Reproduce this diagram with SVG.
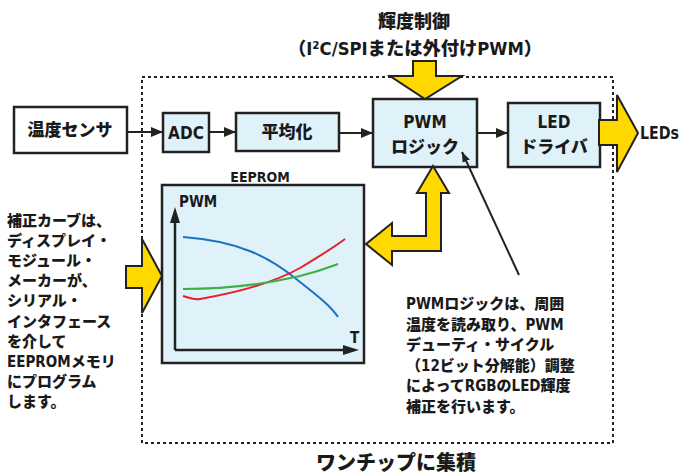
<svg xmlns="http://www.w3.org/2000/svg" width="681" height="475" viewBox="0 0 681 475">
<style>
.t{font-family:"DejaVu Sans Condensed","DejaVu Sans","Noto Sans CJK JP",sans-serif;font-stretch:condensed;font-weight:900;fill:#1a1a1a}
.box{fill:#dff1f9;stroke:#222;stroke-width:2.5}
.wbox{fill:#fff;stroke:#222;stroke-width:2.5}
.yel{fill:#ffd800;stroke:#222;stroke-width:2;stroke-linejoin:miter}
.con{stroke:#222;stroke-width:2;fill:none}
.m{text-anchor:middle}
</style>
<defs>
<marker id="ah" viewBox="0 0 12 10" refX="12" refY="5" markerWidth="12" markerHeight="10" markerUnits="userSpaceOnUse" orient="auto"><path d="M0,0 L12,5 L0,10 Z" fill="#222"/></marker>
<marker id="ah2" viewBox="0 0 10 8" refX="10" refY="4" markerWidth="10" markerHeight="8" markerUnits="userSpaceOnUse" orient="auto"><path d="M0,0 L10,4 L0,8 Z" fill="#222"/></marker>
</defs>
<rect width="681" height="475" fill="#fff"/>

<g id="title">
<text class="t m" x="414" y="28" font-size="18">輝度制御</text>
<text class="t m" x="415" y="55" font-size="18" textLength="254" lengthAdjust="spacingAndGlyphs">（I²C/SPIまたは外付けPWM）</text>
</g>

<g id="chip-boundary">
<rect x="142" y="77" width="471" height="366" fill="none" stroke="#222" stroke-width="2" stroke-dasharray="3 3"/>
</g>

<g id="temp-sensor">
<rect class="wbox" x="14" y="107" width="113" height="46"/>
<text class="t m" x="70" y="136" font-size="17">温度センサ</text>
</g>
<g id="adc">
<rect class="box" x="163" y="113" width="46" height="39"/>
<text class="t m" x="186" y="139" font-size="17">ADC</text>
</g>
<g id="average">
<rect class="box" x="236" y="113" width="103" height="38"/>
<text class="t m" x="287" y="138" font-size="17">平均化</text>
</g>
<g id="pwm-logic">
<rect class="box" x="373" y="99" width="104" height="68"/>
<text class="t m" x="425" y="128" font-size="17">PWM</text>
<text class="t m" x="425" y="153" font-size="17">ロジック</text>
</g>
<g id="led-driver">
<rect class="box" x="508" y="103" width="92" height="64"/>
<text class="t m" x="554" y="128" font-size="17">LED</text>
<text class="t m" x="554" y="153" font-size="17">ドライバ</text>
</g>
<g id="leds">
<text class="t" x="640" y="139" font-size="17" textLength="39" lengthAdjust="spacingAndGlyphs">LEDs</text>
</g>

<g id="eeprom">
<text class="t m" x="260" y="182" font-size="14">EEPROM</text>
<rect class="box" x="162" y="185" width="202" height="178"/>
<line x1="175" y1="350" x2="175" y2="220" stroke="#222" stroke-width="2.5"/>
<polygon points="175,207 170,223 180,223" fill="#222"/>
<line x1="175" y1="350" x2="345" y2="350" stroke="#222" stroke-width="2.5"/>
<polygon points="359,350 343,345 343,355" fill="#222"/>
<text class="t" x="179" y="207" font-size="15">PWM</text>
<text class="t" x="350" y="343" font-size="15">T</text>
<path d="M183,237 C240,241 270,258 295,278 C315,294 330,305 338,317" fill="none" stroke="#1a72c0" stroke-width="2"/>
<path d="M183,296 C190,298 194,300 200,299 C240,292 275,282 300,268 C320,256 333,248 345,239" fill="none" stroke="#e8202a" stroke-width="2"/>
<path d="M183,289 C230,289 270,283 300,276 C320,271 330,267 338,264" fill="none" stroke="#3cb043" stroke-width="2"/>
</g>

<g id="connectors">
<line class="con" x1="127" y1="132" x2="163" y2="132" marker-end="url(#ah)"/>
<line class="con" x1="209" y1="132" x2="236" y2="132" marker-end="url(#ah)"/>
<line class="con" x1="339" y1="133" x2="373" y2="133" marker-end="url(#ah)"/>
<line class="con" x1="477" y1="133" x2="508" y2="133" marker-end="url(#ah)"/>
<line class="con" x1="519" y1="275" x2="462" y2="152" stroke-width="1.6" marker-end="url(#ah2)"/>
<polygon class="yel" points="413,61 436,61 436,76 462,76 425,99 390,76 413,76"/>
<polygon class="yel" points="599,120 617,120 617,95 638,133 617,172 617,145 599,145"/>
<polygon class="yel" points="126,266 142,266 142,239 162,276 142,313 142,288 126,288"/>
<polygon class="yel" points="433,166 449,193 441,193 441,251 392,251 392,265 366,244 392,223 392,236 426,236 426,193 417,193"/>
</g>

<g id="note-left">
<text class="t" font-size="15">
<tspan x="7" y="225.5">補正カーブは、</tspan>
<tspan x="7" y="245.7">ディスプレイ・</tspan>
<tspan x="7" y="265.9">モジュール・</tspan>
<tspan x="7" y="286.1">メーカーが、</tspan>
<tspan x="7" y="306.3">シリアル・</tspan>
<tspan x="7" y="326.5">インタフェース</tspan>
<tspan x="7" y="346.7">を介して</tspan>
<tspan x="7" y="366.9">EEPROMメモリ</tspan>
<tspan x="7" y="387.1">にプログラム</tspan>
<tspan x="7" y="407.3">します。</tspan>
</text>
</g>

<g id="note-right">
<text class="t" font-size="15">
<tspan x="406" y="309">PWMロジックは、周囲</tspan>
<tspan x="406" y="329.6">温度を読み取り、PWM</tspan>
<tspan x="406" y="350.2">デューティ・サイクル</tspan>
<tspan x="406" y="370.8">（12ビット分解能）調整</tspan>
<tspan x="406" y="391.4">によってRGBのLED輝度</tspan>
<tspan x="406" y="412">補正を行います。</tspan>
</text>
</g>

<g id="footer">
<text class="t m" x="396" y="470" font-size="20">ワンチップに集積</text>
</g>
</svg>
